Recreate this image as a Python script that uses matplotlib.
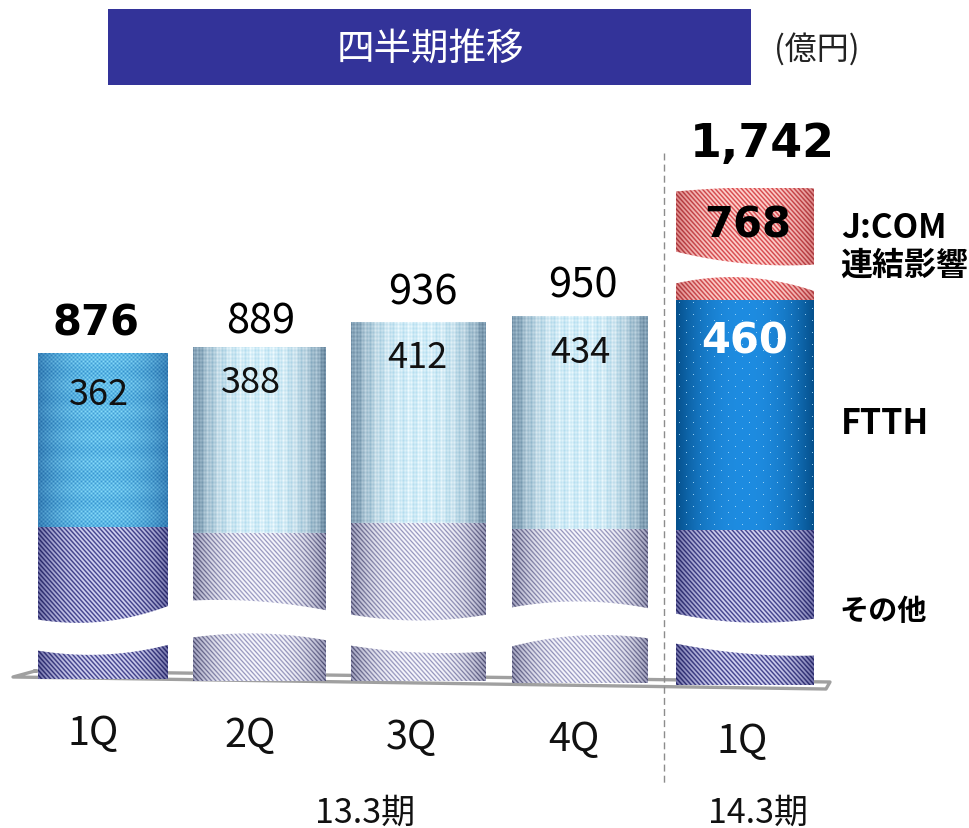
import numpy as np
import matplotlib
matplotlib.use('Agg')
import matplotlib.pyplot as plt
from matplotlib.patches import Rectangle

plt.rcParams['font.family'] = ['Noto Sans CJK JP', 'DejaVu Sans']

# values (oku yen)
quarters = ['1Q', '2Q', '3Q', '4Q', '1Q']
totals = [876, 889, 936, 950, 1742]
ftth = [362, 388, 412, 434, 460]
other = [514, 501, 524, 516, 514]
jcom = [0, 0, 0, 0, 768]
# part of each bar taken out by the axis break
other_cut = [198, 192, 200, 202, 204]
jcom_cut = [0, 0, 0, 0, 544]

# layout, everything in pixels of the 970x829 picture
BASE = 681
def py(px):
    return BASE - px

x_pos = [103, 259.5, 418.5, 580, 745]
widths = [130, 133, 135, 136, 138]
base_px = [679, 681, 681, 683, 685]
px_per_unit = [0.481, 0.479, 0.488, 0.491, 0.50]
total_xy = [(96, 30), (261, 26), (423, 30), (583, 31), (762, 44)]
ftth_xy = [(99, 41), (251, 35), (417, 35), (580, 36), (745, 41)]
tick_x = [93, 250, 411, 574, 742]
tick_y = [733, 735, 737, 739, 741]

# break edges (left, middle, right)
gap_upper = [(619, 621, 605), (600, 601, 610), (614, 620, 614), (607, 601, 608), (613, 622, 618)]
gap_lower = [(650, 654, 644), (637, 633, 640), (645, 652, 651), (646, 635, 638), (643, 653, 655)]
jcom_upper = (251, 263, 264)
jcom_lower = (283, 277, 291)
jcom_top = (191, 187, 188)

def edge(x0, x1, pts, x):
    t = (x - x0) / (x1 - x0)
    return np.polyval(np.polyfit([0, 0.5, 1], pts, 2), t)

def mix(a, b, w):
    a = np.array(a, float)
    b = np.array(b, float)
    return a + (b - a) * w[..., None]

def cylinder(w, h, power=2.2):
    t = np.linspace(-1, 1, w)
    s = 1 - np.abs(t) ** power
    return np.tile(s, (h, 1))

def diagonal(w, h, period=4.4):
    yy, xx = np.mgrid[0:h, 0:w]
    return (np.sin((xx - yy * 0.9) * 2 * np.pi / period) + 1) / 2

def tex_dark(w, h):
    s = cylinder(w, h, 3)
    d = diagonal(w, h) ** 0.8
    dark = mix((35, 35, 100), (65, 65, 140), s)
    light = mix((120, 120, 175), (215, 215, 245), s)
    return mix(dark, light, d)

def tex_pale(w, h):
    s = cylinder(w, h, 3)
    d = diagonal(w, h) ** 0.6
    dark = mix((70, 70, 105), (150, 150, 190), s)
    light = mix((165, 165, 195), (250, 250, 255), s)
    return mix(dark, light, d)

def tex_blue_check(w, h):
    s = cylinder(w, h, 2.4)
    yy, xx = np.mgrid[0:h, 0:w]
    c = (np.sin(xx * 2 * np.pi / 4) * np.sin(yy * 2 * np.pi / 4) + 1) / 2
    band = (np.sin(yy * 2 * np.pi / 26) + 1) / 2
    dark = mix((35, 105, 165), (55, 150, 210), s)
    light = mix((75, 150, 200), (135, 220, 250), s)
    return mix(dark, light, c * 0.85 + band * 0.15)

def tex_pale_blue(w, h):
    s = cylinder(w, h, 3)
    yy, xx = np.mgrid[0:h, 0:w]
    v = (np.sin(xx * 2 * np.pi / 11) + np.sin(xx * 2 * np.pi / 3.3) + 2) / 4
    c = (np.sin(yy * 2 * np.pi / 4) + 1) / 2
    dark = mix((85, 115, 140), (180, 222, 240), s)
    light = mix((150, 180, 200), (242, 252, 255), s)
    return mix(dark, light, v * 0.7 + c * 0.3)

def tex_blue_dots(w, h):
    s = cylinder(w, h, 2.2)
    yy, xx = np.mgrid[0:h, 0:w]
    base = mix((5, 80, 140), (30, 140, 225), s)
    dots = ((xx % 14 == 3) & (yy % 12 == 2)) | ((xx % 14 == 10) & (yy % 12 == 8))
    return mix(base, (170, 220, 250), dots * 0.85)

def tex_red(w, h):
    s = cylinder(w, h, 3)
    d = diagonal(w, h) ** 0.8
    dark = mix((165, 50, 55), (215, 70, 75), s)
    light = mix((225, 140, 140), (255, 215, 210), s)
    return mix(dark, light, d)

other_tex = [tex_dark, tex_pale, tex_pale, tex_pale, tex_dark]
ftth_tex = [tex_blue_check, tex_pale_blue, tex_pale_blue, tex_pale_blue, tex_blue_dots]

fig = plt.figure(figsize=(9.7, 8.29), dpi=100)
ax = fig.add_axes([0, 0, 1, 1])

def paint(bar, tex):
    x0, y0 = bar.get_x(), bar.get_y()
    w, h = bar.get_width(), bar.get_height()
    img = tex(int(np.ceil(w)), int(np.ceil(h))) / 255.0
    im = ax.imshow(np.clip(img, 0, 1), extent=[x0, x0 + w, y0, y0 + h], aspect='auto',
                   interpolation='nearest', zorder=3)
    im.set_clip_path(bar)

# floor
ax.plot([35, 13, 826, 830, 35], [py(671), py(677), py(689), py(682), py(671)],
        color='#a0a0a0', lw=2.4, zorder=1)

bottoms = [py(b) for b in base_px]
h_other = [(o - c) * k for o, c, k in zip(other, other_cut, px_per_unit)]
h_ftth = [f * k for f, k in zip(ftth, px_per_unit)]
h_jcom = [(j - c) * k for j, c, k in zip(jcom, jcom_cut, px_per_unit)]
b_ftth = [b + h for b, h in zip(bottoms, h_other)]
b_jcom = [b + h for b, h in zip(b_ftth, h_ftth)]
tops = [b + max(h, 0) for b, h in zip(b_jcom, h_jcom)]

bars_o = ax.bar(x_pos, h_other, widths, bottom=bottoms, color='none', zorder=2)
bars_f = ax.bar(x_pos, h_ftth, widths, bottom=b_ftth, color='none', zorder=2)
for i in range(len(x_pos)):
    paint(bars_o[i], other_tex[i])
    paint(bars_f[i], ftth_tex[i])
bar_j = ax.bar(x_pos[4], h_jcom[4], widths[4], bottom=b_jcom[4], color='none', zorder=2)[0]
paint(bar_j, tex_red)

# white wave breaks
for i in range(len(x_pos)):
    x0 = x_pos[i] - widths[i] / 2 - 1
    x1 = x_pos[i] + widths[i] / 2 + 1
    xs = np.linspace(x0, x1, 80)
    ax.fill_between(xs, py(edge(x0, x1, gap_upper[i], xs)), py(edge(x0, x1, gap_lower[i], xs)),
                    color='white', lw=0, zorder=4)
x0 = x_pos[4] - widths[4] / 2 - 1
x1 = x_pos[4] + widths[4] / 2 + 1
xs = np.linspace(x0, x1, 80)
ax.fill_between(xs, py(edge(x0, x1, jcom_upper, xs)), py(edge(x0, x1, jcom_lower, xs)),
                color='white', lw=0, zorder=4)
ax.fill_between(xs, py(edge(x0, x1, jcom_top, xs)), py(175), color='white', lw=0, zorder=4)

# period divider
ax.plot([664, 664], [py(153), py(783)], color='#8c8c8c', lw=1, ls=(0, (5, 3)), zorder=5)

# banner
ax.add_patch(Rectangle((108, py(85)), 643, 76, color='#333399', lw=0, zorder=2))
ax.text(430, py(48), '四半期推移', color='white', fontsize=27, ha='center', va='center', zorder=6)
ax.text(817, py(48), '(億円)', color='#222222', fontsize=23, ha='center', va='center', zorder=6)

# labels
for i in range(5):
    tx, off = total_xy[i]
    s = f'{totals[i]:,}'
    if i == 0:
        ax.text(tx, tops[i] + off, s, fontsize=30, fontweight='bold', family='DejaVu Sans',
                ha='center', va='center', zorder=6)
    elif i == 4:
        ax.text(tx, tops[i] + off, s, fontsize=33, fontweight='bold', family='DejaVu Sans',
                ha='center', va='center', zorder=6)
    else:
        ax.text(tx, tops[i] + off, s, fontsize=30, ha='center', va='center', zorder=6)
    fx, foff = ftth_xy[i]
    if i == 4:
        ax.text(fx, b_jcom[i] - foff, str(ftth[i]), fontsize=30, color='white', fontweight='bold',
                family='DejaVu Sans', ha='center', va='center', zorder=6)
    else:
        ax.text(fx, b_jcom[i] - foff, str(ftth[i]), fontsize=26, color='#111111',
                ha='center', va='center', zorder=6)
    ax.text(tick_x[i], py(tick_y[i]), quarters[i], fontsize=28.5, color='#111111',
            ha='center', va='center', zorder=6)

ax.text(748, py(224), str(jcom[4]), fontsize=30, fontweight='bold', family='DejaVu Sans',
        ha='center', va='center', zorder=6)

ax.text(841, py(227), 'J:COM', fontsize=24, fontweight='bold', ha='left', va='center', zorder=6)
ax.text(840, py(265), '連結影響', fontsize=23, fontweight='bold', ha='left', va='center', zorder=6)
ax.text(841, py(422), 'FTTH', fontsize=24.5, fontweight='bold', ha='left', va='center', zorder=6)
ax.text(839, py(610), 'その他', fontsize=21, fontweight='bold', ha='left', va='center', zorder=6)

ax.text(365, py(812), '13.3期', fontsize=24.5, color='#111111', ha='center', va='center', zorder=6)
ax.text(758, py(812), '14.3期', fontsize=24.5, color='#111111', ha='center', va='center', zorder=6)

ax.set_xlim(0, 970)
ax.set_ylim(py(828), py(-1))
ax.axis('off')
fig.savefig('out.png', dpi=100, facecolor='white')
